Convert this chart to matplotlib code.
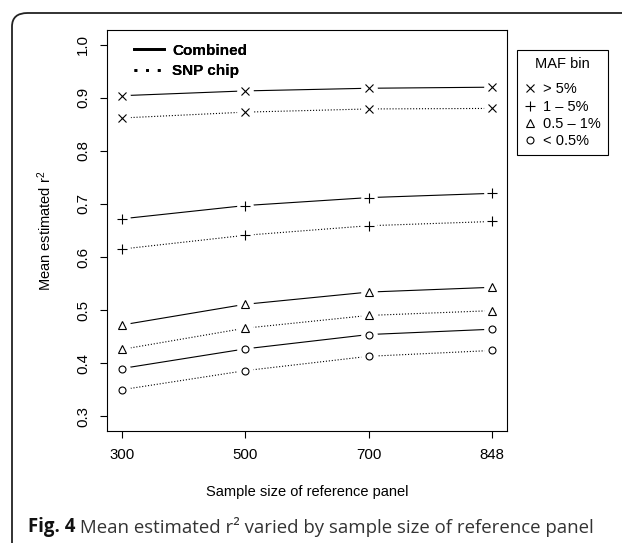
# Mean estimated r2 by reference panel size

import numpy as np
import matplotlib
matplotlib.use('Agg')
import matplotlib.pyplot as plt
from matplotlib.lines import Line2D
from matplotlib.patches import FancyBboxPatch

sizes = ['300', '500', '700', '848']

comb_gt5 = [0.904, 0.913, 0.918, 0.920]
chip_gt5 = [0.862, 0.873, 0.879, 0.880]
comb_1to5 = [0.672, 0.697, 0.712, 0.720]
chip_1to5 = [0.615, 0.641, 0.659, 0.667]
comb_05to1 = [0.472, 0.511, 0.534, 0.543]
chip_05to1 = [0.426, 0.466, 0.490, 0.499]
comb_lt05 = [0.390, 0.427, 0.454, 0.464]
chip_lt05 = [0.350, 0.386, 0.413, 0.424]

maf_labels = ['> 5%', '1 \u2013 5%', '0.5 \u2013 1%', '< 0.5%']

plt.rcParams['font.family'] = 'Liberation Sans'
plt.rcParams['mathtext.fontset'] = 'custom'
plt.rcParams['mathtext.rm'] = 'Liberation Sans'
plt.rcParams['mathtext.it'] = 'Liberation Sans'
plt.rcParams['mathtext.default'] = 'rm'

fig = plt.figure(figsize=(6.22, 5.43), dpi=100)
ax = fig.add_axes([0.172, 0.206, 0.643, 0.739])

x = np.arange(1, len(sizes) + 1)

# marker, size, edge width for each MAF bin
mk = [('x', 5.5, 0.8), ('+', 7, 0.8), ('^', 6, 0.8), ('o', 5, 0.8)]
series = [(comb_gt5, chip_gt5), (comb_1to5, chip_1to5),
          (comb_05to1, chip_05to1), (comb_lt05, chip_lt05)]

for (comb, chip), (m, ms, mew) in zip(series, mk):
    for vals, ls in [(comb, '-'), (chip, ':')]:
        ax.plot(x, vals, color='black', lw=0.8, ls=ls, zorder=2)
        # white spot behind the point, like R type="b"
        ax.plot(x, vals, ls='none', marker='o', ms=12, mfc='white',
                mec='none', zorder=3)
        ax.plot(x, vals, ls='none', marker=m, ms=ms, mew=mew,
                mfc='none', mec='black', zorder=4)

ax.set_xlim(0.88, 4.12)
ax.set_ylim(0.272, 1.028)
ax.set_xticks(x, sizes)
yt = np.arange(0.3, 1.01, 0.1)
ax.set_yticks(yt, [f'{v:.1f}' for v in yt], rotation=90, va='center')
ax.tick_params(length=5, width=0.8, labelsize=10.8, pad=7)
for s in ax.spines.values():
    s.set_linewidth(0.8)

fig.text(0.5 * (0.172 + 0.815), 1 - 492 / 543,
         'Sample size of reference panel', ha='center', va='center',
         fontsize=10.5)
fig.text(45 / 622, 0.5 * (0.206 + 0.945), 'Mean estimated r$^2$',
         rotation=90, ha='center', va='center', fontsize=10.5)

# line type legend
lt_handles = [Line2D([], [], color='black', lw=2, ls='-'),
              Line2D([], [], color='black', lw=2, ls=(0, (1, 3.2)))]
leg1 = ax.legend(lt_handles, ['Combined', 'SNP chip'], loc='upper left',
                 bbox_to_anchor=(0.048, 0.985), frameon=False,
                 prop={'weight': 'bold', 'size': 11}, handlelength=2.0,
                 handletextpad=0.5, labelspacing=0.45, borderpad=0)
ax.add_artist(leg1)

# MAF bin legend
maf_handles = [Line2D([], [], ls='none', marker=m, ms=ms, mew=mew,
                      mfc='none', mec='black') for m, ms, mew in mk]
leg2 = fig.legend(maf_handles, maf_labels, title='MAF bin',
                  loc='upper left', bbox_to_anchor=(517 / 622, 1 - 50 / 543),
                  fontsize=10.5, title_fontsize=10.5, fancybox=False,
                  edgecolor='black', framealpha=1, handlelength=0.8,
                  handletextpad=0.5, labelspacing=0.22, borderpad=0.5,
                  borderaxespad=0)
leg2.get_frame().set_linewidth(0.8)
leg2._legend_box.sep = 8

# rounded outer border
border = FancyBboxPatch((12 / 622, -0.2), 1.2, 1.2 - 13 / 543,
                        boxstyle='round,pad=0,rounding_size=0.025',
                        transform=fig.transFigure, fill=False,
                        ec='#222222', lw=1.3, clip_on=False)
fig.add_artist(border)

# caption
t1 = fig.text(28 / 622, 1 - 527 / 543, 'Fig. 4', fontfamily='Open Sans',
              fontweight='bold', fontsize=13.4, va='center', color='#111111')
ax.annotate(' Mean estimated r\u00b2 varied by sample size of reference panel',
            xy=(1, 0), xycoords=t1, va='bottom', ha='left',
            fontfamily='Open Sans', fontsize=13.4, color='#333333',
            annotation_clip=False)

fig.savefig('out.png', dpi=100)
